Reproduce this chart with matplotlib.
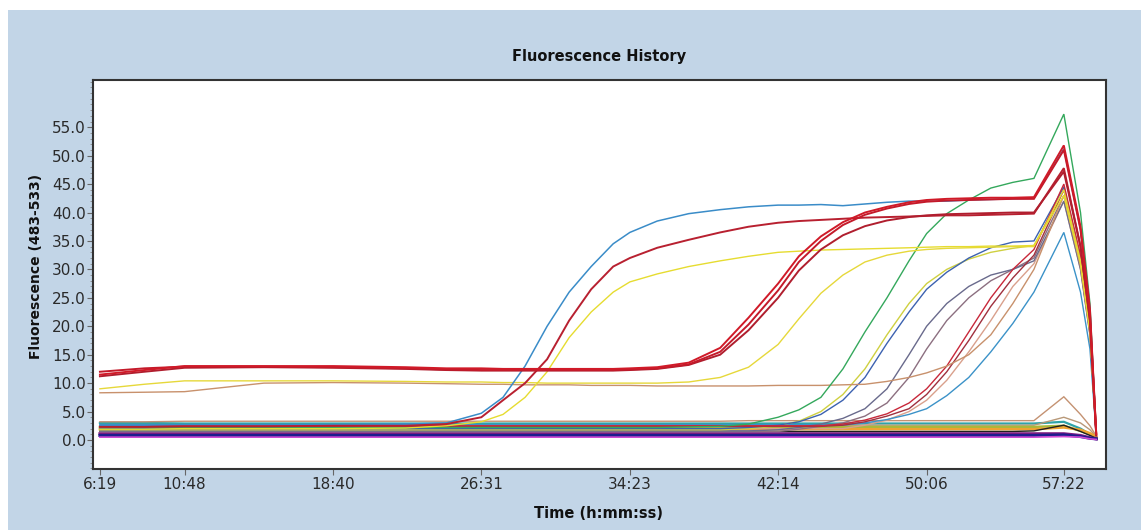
import matplotlib
matplotlib.use('Agg')
import matplotlib.pyplot as plt
from matplotlib.ticker import MultipleLocator
from matplotlib.patches import Rectangle

# acquisition times (s) of the readings
t_sec = [379, 520, 648, 900, 1120, 1350, 1480, 1591, 1660, 1730, 1800, 1870,
         1940, 2010, 2063, 2150, 2250, 2350, 2440, 2534, 2600, 2670, 2740, 2810,
         2880, 2950, 3006, 3070, 3140, 3210, 3280, 3347, 3442, 3495, 3525, 3545]

tick_sec = [379, 648, 1120, 1591, 2063, 2534, 3006, 3442]
tick_lbl = ['6:19', '10:48', '18:40', '26:31', '34:23', '42:14', '50:06', '57:22']

# flat / negative wells
navy_flat = [0.8, 0.8, 0.8, 0.8, 0.8, 0.8, 0.8, 0.8, 0.8, 0.8, 0.8, 0.8,
             0.8, 0.8, 0.8, 0.8, 0.8, 0.8, 0.8, 0.8, 0.8, 0.8, 0.8, 0.8,
             0.8, 0.8, 0.8, 0.8, 0.8, 0.8, 0.8, 0.8, 0.9, 0.6, 0.3, 0.2]
purple_flat = [1.1, 1.1, 1.1, 1.1, 1.1, 1.1, 1.1, 1.1, 1.1, 1.1, 1.1, 1.1,
               1.1, 1.1, 1.1, 1.1, 1.1, 1.1, 1.1, 1.1, 1.1, 1.1, 1.1, 1.1,
               1.1, 1.1, 1.1, 1.1, 1.1, 1.1, 1.1, 1.1, 1.1, 0.8, 0.4, 0.2]
magenta_flat = [0.5, 0.5, 0.5, 0.5, 0.5, 0.5, 0.5, 0.5, 0.5, 0.5, 0.5, 0.5,
                0.5, 0.5, 0.5, 0.5, 0.5, 0.5, 0.5, 0.5, 0.5, 0.5, 0.5, 0.5,
                0.5, 0.5, 0.5, 0.5, 0.5, 0.5, 0.5, 0.5, 0.6, 0.5, 0.2, 0.1]
orange_flat = [1.9, 1.9, 1.9, 1.9, 1.9, 1.9, 1.9, 1.9, 1.9, 1.9, 1.9, 1.9,
               1.9, 1.9, 1.9, 1.9, 1.9, 1.9, 1.9, 1.9, 1.9, 1.9, 1.9, 1.9,
               1.9, 1.9, 1.9, 1.9, 1.9, 1.9, 1.9, 1.9, 2.2, 1.8, 1.2, 0.6]
olive_flat = [2.3, 2.3, 2.3, 2.3, 2.3, 2.3, 2.3, 2.3, 2.3, 2.3, 2.3, 2.3,
              2.3, 2.3, 2.3, 2.3, 2.3, 2.3, 2.3, 2.3, 2.3, 2.3, 2.3, 2.3,
              2.3, 2.3, 2.3, 2.3, 2.3, 2.3, 2.3, 2.3, 2.5, 1.6, 1.0, 0.4]
teal_flat = [3.0, 3.0, 2.9, 2.9, 2.9, 2.9, 2.9, 2.9, 2.9, 2.9, 2.9, 2.9,
             2.9, 2.9, 2.9, 2.9, 2.9, 2.9, 2.9, 2.9, 2.9, 2.9, 2.9, 2.9,
             2.9, 2.9, 2.9, 2.9, 2.9, 2.9, 2.9, 2.9, 3.2, 2.0, 1.0, 0.5]
black_flat = [1.5, 1.5, 1.5, 1.5, 1.5, 1.5, 1.5, 1.5, 1.5, 1.5, 1.5, 1.5,
              1.5, 1.5, 1.5, 1.5, 1.5, 1.5, 1.5, 1.5, 1.5, 1.5, 1.5, 1.5,
              1.5, 1.5, 1.5, 1.5, 1.5, 1.5, 1.5, 1.6, 2.6, 1.5, 0.8, 0.3]
tan_flat = [3.2, 3.2, 3.3, 3.3, 3.3, 3.3, 3.3, 3.3, 3.3, 3.3, 3.3, 3.3,
            3.3, 3.3, 3.3, 3.3, 3.3, 3.3, 3.4, 3.4, 3.4, 3.4, 3.4, 3.4,
            3.4, 3.4, 3.4, 3.4, 3.4, 3.4, 3.4, 3.4, 7.6, 4.5, 2.5, 0.7]
tan_flat2 = [2.6, 2.6, 2.6, 2.6, 2.6, 2.6, 2.6, 2.6, 2.6, 2.6, 2.6, 2.6,
             2.6, 2.6, 2.6, 2.6, 2.6, 2.6, 2.6, 2.6, 2.6, 2.6, 2.6, 2.6,
             2.6, 2.6, 2.6, 2.6, 2.6, 2.6, 2.6, 2.6, 4.0, 3.0, 1.8, 0.6]

# amplified wells
blue_early = [2.6, 2.6, 2.7, 2.7, 2.7, 2.8, 3.0, 4.7, 7.5, 13.0, 20.0, 26.0,
              30.5, 34.5, 36.5, 38.5, 39.8, 40.5, 41.0, 41.3, 41.3, 41.4, 41.2, 41.5,
              41.8, 42.0, 42.0, 42.0, 42.2, 42.3, 42.4, 42.5, 51.2, 37.0, 23.0, 0.8]
red_early = [2.3, 2.3, 2.4, 2.4, 2.5, 2.5, 2.8, 4.0, 7.0, 10.0, 14.2, 21.0,
             26.5, 30.5, 32.0, 33.8, 35.2, 36.5, 37.5, 38.2, 38.5, 38.7, 38.9, 39.1,
             39.2, 39.3, 39.4, 39.5, 39.5, 39.6, 39.7, 39.8, 47.8, 34.0, 21.0, 0.9]
yellow_early = [1.9, 1.9, 2.0, 2.0, 2.0, 2.1, 2.5, 3.2, 4.5, 7.5, 12.0, 18.0,
                22.5, 26.0, 27.8, 29.2, 30.5, 31.5, 32.3, 33.0, 33.2, 33.4, 33.5, 33.6,
                33.7, 33.8, 33.9, 34.0, 34.0, 34.1, 34.1, 34.2, 43.0, 31.0, 19.0, 1.0]
red_late_a = [11.5, 12.3, 13.0, 13.0, 13.0, 12.8, 12.6, 12.6, 12.5, 12.5, 12.5, 12.5,
              12.5, 12.5, 12.6, 12.8, 13.6, 16.2, 21.5, 27.5, 32.3, 35.8, 38.3, 40.0,
              41.0, 41.8, 42.2, 42.4, 42.5, 42.6, 42.6, 42.7, 51.8, 37.5, 23.0, 1.0]
red_late_b = [12.0, 12.6, 12.9, 12.9, 12.8, 12.6, 12.4, 12.3, 12.3, 12.3, 12.3, 12.3,
              12.3, 12.3, 12.4, 12.6, 13.3, 15.5, 20.3, 26.3, 31.3, 35.0, 37.8, 39.6,
              40.7, 41.5, 41.9, 42.1, 42.2, 42.3, 42.4, 42.4, 51.0, 37.0, 22.0, 1.1]
red_late_c = [11.2, 12.0, 12.7, 12.8, 12.7, 12.5, 12.3, 12.2, 12.2, 12.2, 12.2, 12.2,
              12.2, 12.2, 12.3, 12.5, 13.2, 15.0, 19.3, 25.0, 29.8, 33.5, 36.0, 37.6,
              38.6, 39.2, 39.5, 39.7, 39.8, 39.9, 40.0, 40.0, 47.2, 34.0, 21.0, 0.8]
yellow_late = [9.0, 9.8, 10.4, 10.4, 10.4, 10.3, 10.2, 10.2, 10.1, 10.1, 10.0, 10.0,
               10.0, 10.0, 10.0, 10.0, 10.2, 11.0, 12.8, 16.8, 21.3, 25.8, 29.0, 31.3,
               32.5, 33.2, 33.5, 33.7, 33.8, 33.9, 34.0, 34.0, 44.0, 31.5, 19.5, 1.0]
tan_late = [8.3, 8.4, 8.5, 10.0, 10.1, 10.0, 9.9, 9.8, 9.8, 9.7, 9.7, 9.7,
            9.6, 9.6, 9.6, 9.5, 9.5, 9.5, 9.5, 9.6, 9.6, 9.6, 9.7, 9.8,
            10.3, 11.0, 11.8, 13.0, 15.0, 18.5, 24.0, 30.0, 43.0, 30.5, 19.0, 0.9]
green = [2.2, 2.2, 2.2, 2.2, 2.2, 2.2, 2.2, 2.2, 2.2, 2.2, 2.2, 2.2,
         2.2, 2.2, 2.2, 2.2, 2.3, 2.4, 2.8, 4.0, 5.3, 7.5, 12.5, 19.0,
         25.0, 31.5, 36.3, 39.8, 42.2, 44.3, 45.3, 46.0, 57.3, 40.0, 24.0, 1.0]
dkblue_mid = [2.0, 2.0, 2.0, 2.0, 2.0, 2.0, 2.0, 2.0, 2.0, 2.0, 2.0, 2.0,
              2.0, 2.0, 2.0, 2.0, 2.0, 2.0, 2.2, 2.6, 3.2, 4.5, 7.0, 11.0,
              17.0, 22.5, 26.5, 29.5, 32.0, 33.8, 34.8, 35.0, 44.5, 32.0, 20.0, 0.8]
ygreen_mid = [1.8, 1.8, 1.8, 1.8, 1.8, 1.8, 1.8, 1.8, 1.8, 1.8, 1.8, 1.8,
              1.8, 1.8, 1.8, 1.8, 1.8, 1.8, 2.0, 2.5, 3.3, 5.0, 8.0, 12.5,
              18.5, 24.0, 27.5, 30.0, 31.8, 33.0, 33.7, 34.2, 44.0, 31.5, 19.5, 0.9]
gray_mid1 = [1.6, 1.6, 1.6, 1.6, 1.6, 1.6, 1.6, 1.6, 1.6, 1.6, 1.6, 1.6,
             1.6, 1.6, 1.6, 1.6, 1.6, 1.6, 1.6, 1.8, 2.2, 2.8, 3.8, 5.5,
             9.0, 15.0, 20.0, 24.0, 27.0, 29.0, 30.0, 31.5, 42.0, 30.0, 18.5, 0.8]
gray_mid2 = [1.5, 1.5, 1.5, 1.5, 1.5, 1.5, 1.5, 1.5, 1.5, 1.5, 1.5, 1.5,
             1.5, 1.5, 1.5, 1.5, 1.5, 1.5, 1.5, 1.5, 1.9, 2.4, 3.0, 4.2,
             6.5, 11.0, 16.0, 21.0, 25.0, 28.0, 30.0, 32.0, 43.0, 30.5, 19.0, 0.9]
red_mid1 = [2.5, 2.5, 2.5, 2.5, 2.5, 2.5, 2.5, 2.5, 2.5, 2.5, 2.5, 2.5,
            2.5, 2.5, 2.5, 2.5, 2.5, 2.5, 2.5, 2.5, 2.5, 2.5, 2.8, 3.5,
            4.6, 6.5, 9.0, 13.0, 19.0, 25.0, 30.0, 33.5, 45.0, 32.5, 20.0, 1.0]
red_mid2 = [2.4, 2.4, 2.4, 2.4, 2.4, 2.4, 2.4, 2.4, 2.4, 2.4, 2.4, 2.4,
            2.4, 2.4, 2.4, 2.4, 2.4, 2.4, 2.4, 2.4, 2.4, 2.4, 2.6, 3.2,
            4.2, 5.5, 8.0, 12.0, 17.5, 23.5, 28.5, 32.5, 44.0, 31.5, 19.5, 0.9]
ltblue_late = [2.7, 2.7, 2.7, 2.7, 2.7, 2.7, 2.7, 2.7, 2.7, 2.7, 2.7, 2.7,
               2.7, 2.7, 2.7, 2.7, 2.7, 2.7, 2.7, 2.7, 2.7, 2.7, 2.6, 3.0,
               3.6, 4.5, 5.5, 7.8, 11.0, 15.5, 20.5, 26.0, 36.5, 26.0, 16.0, 0.8]
pink_late = [2.0, 2.0, 2.0, 2.0, 2.0, 2.0, 2.0, 2.0, 2.0, 2.0, 2.0, 2.0,
             2.0, 2.0, 2.0, 2.0, 2.0, 2.0, 2.0, 2.0, 2.0, 2.0, 2.0, 2.6,
             3.5, 5.0, 7.0, 10.5, 15.5, 21.0, 27.0, 31.0, 42.0, 30.0, 18.5, 0.9]

# (series, colour, width) in drawing order
wells = [
    (teal_flat, '#2fa3a8', 1.6),
    (tan_flat2, '#b89878', 1.0),
    (tan_flat, '#c49272', 1.0),
    (olive_flat, '#a9b83a', 1.8),
    (orange_flat, '#eea230', 1.8),
    (black_flat, '#202020', 1.0),
    (purple_flat, '#7e1a80', 2.2),
    (navy_flat, '#1d1d8e', 2.2),
    (magenta_flat, '#d24ad2', 1.2),
    (pink_late, '#d9a08c', 1.0),
    (ltblue_late, '#3b92c8', 1.0),
    (gray_mid2, '#8c6f80', 1.0),
    (gray_mid1, '#696a8c', 1.0),
    (ygreen_mid, '#cfd040', 1.0),
    (dkblue_mid, '#3c62b0', 1.0),
    (red_mid2, '#a0303e', 1.0),
    (red_mid1, '#c8283a', 1.0),
    (tan_late, '#c8916c', 1.0),
    (green, '#34a85c', 1.0),
    (yellow_late, '#e6d83a', 1.0),
    (yellow_early, '#e6dc30', 1.0),
    (blue_early, '#3a8cc8', 1.1),
    (red_early, '#b82030', 1.4),
    (red_late_c, '#b01e2e', 1.4),
    (red_late_b, '#c41a2a', 1.4),
    (red_late_a, '#d01a28', 1.4),
]

W, H = 1141, 530
fig = plt.figure(figsize=(W / 100, H / 100), dpi=100)
fig.patch.set_facecolor('white')
fig.add_artist(Rectangle((8 / W, 0), 1, 1 - 10 / H, transform=fig.transFigure,
                         facecolor='#c2d5e7', edgecolor='none', zorder=-10))

ax = fig.add_axes([93 / W, 1 - 469 / H, (1106 - 93) / W, (469 - 80) / H])
ax.set_facecolor('white')

for ys, col, lw in wells:
    ax.plot(t_sec, ys, color=col, lw=lw, solid_joinstyle='miter')

ax.set_xlim(357, 3576)
ax.set_ylim(-5.1, 63.3)

ax.set_xticks(tick_sec)
ax.set_xticklabels(tick_lbl)
ax.set_yticks([0, 5, 10, 15, 20, 25, 30, 35, 40, 45, 50, 55])
ax.set_yticklabels(['%.1f' % v for v in range(0, 60, 5)])
ax.yaxis.set_minor_locator(MultipleLocator(1))

ax.tick_params(axis='both', which='major', labelsize=11, labelcolor='#2a2a2a',
               color='#666666', length=4, width=0.8)
ax.tick_params(axis='y', which='minor', length=2, width=0.6, color='#888888')
ax.tick_params(axis='y', pad=1)
ax.tick_params(axis='x', pad=2)

for s in ax.spines.values():
    s.set_color('#333333')
    s.set_linewidth(1.5)

fig.text(599 / W, 1 - 57 / H, 'Fluorescence History', ha='center', va='center',
         fontsize=10.5, fontweight='bold', color='#111111')
fig.text(598 / W, 1 - 513 / H, 'Time (h:mm:ss)', ha='center', va='center',
         fontsize=10.5, fontweight='bold', color='#111111')
fig.text(36 / W, 1 - 266 / H, 'Fluorescence (483-533)', ha='center', va='center',
         rotation=90, fontsize=10, fontweight='bold', color='#111111')

fig.savefig('out.png', dpi=100)
